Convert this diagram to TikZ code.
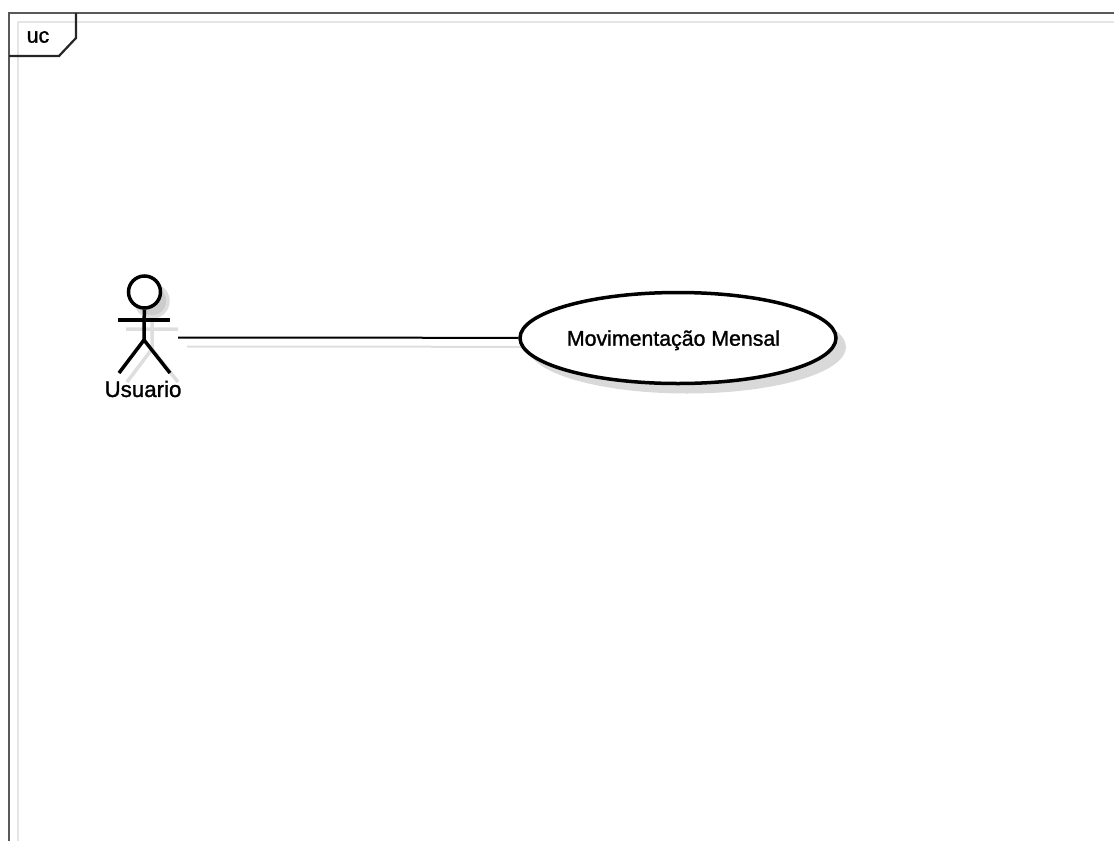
\documentclass[tikz,border=0pt]{standalone}
\usepackage{fontspec}
\setmainfont[FakeBold=1.3]{Liberation Sans}
\usetikzlibrary{shapes.geometric}

\begin{document}
\begin{tikzpicture}[
            x = 1pt,
            y = -1pt,
            line width = 3.5pt, % actor and use case outline
            every node/.style = {font = \fontsize{21.3}{24}\selectfont},
            frame/.style = {draw = black!65, line width = 2pt},
            frameshadow/.style = {draw = black!10, line width = 2pt},
            shadow/.style = {draw = black!13, line width = 3.5pt}
        ]

        \useasboundingbox (0,0) rectangle (1114,841);

        % frame
        \draw[frameshadow] (18,841) -- (18,22) -- (1114,22);
        \draw[frame]       (9,841) -- (9,13) -- (1114,13);
        \node                      (uc)  at (  38 ,  37 ) {uc};
        \coordinate                (tabA) at (  9 ,  56 );
        \coordinate                (tabB) at ( 76 ,  13 );
        \draw[line width = 2.2pt, black!85] (tabA) -- (59,56) -- (76,38) -- (tabB);

        % shadows
        \draw[shadow, fill = black!20] (152,301) circle (16);
        \draw[shadow] (152,318) -- (152,349) (126,329) -- (178,329)
                      (127,382) -- (152,349) -- (178,382);
        \node[ellipse, fill = black!15, minimum width = 318pt, minimum height = 93pt] (useshadow) at ( 687 , 347 ) {};
        \draw[line width = 2pt, black!13] (187,346.5) -- (useshadow);

        % actor
        \node[circle, draw, fill = white, minimum size = 32pt, inner sep = 0pt] (head) at ( 144.5 , 292 ) {};
        \coordinate (hip)  at ( 144 , 340 );
        \coordinate (hand) at ( 178 , 337.5 );
        \draw (head) -- (hip);
        \draw (118,320) -- (170,320);
        \draw (119,373) -- (hip) -- (170,373);
        \node[font = \fontsize{22.3}{24}\selectfont] (usuario) at ( 143 , 389 ) {Usuario};

        % use case
        \node[ellipse, draw, fill = white, inner sep = 0pt, text depth = 0pt, minimum width = 316pt, minimum height = 91pt] (mov) at ( 678 , 338 ) {Movimentação Mensal\hspace*{9pt}};

        \draw[line width = 2pt] (hand) -- (mov);

    \end{tikzpicture}
\end{document}
